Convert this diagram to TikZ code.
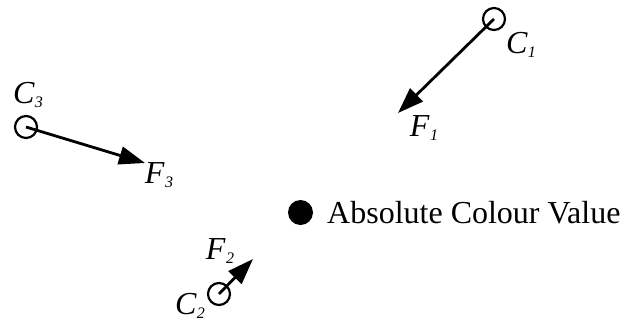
\documentclass[tikz,border=0pt]{standalone}
\usepackage{fontspec}
\setmainfont{Liberation Serif}
\usetikzlibrary{arrows.meta}
\newcommand{\lbl}[2]{\itshape #1\kern0.5pt\raisebox{-0.22ex}{\fontsize{16}{16}\selectfont #2}}
\begin{document}
\begin{tikzpicture}[x=1pt,y=-1pt,
  ring/.style={circle,draw,line width=2.2pt,minimum size=22pt,inner sep=0pt},
  vec/.style={line width=2.8pt,-{Triangle[length=26pt,width=18pt]}},
  lab/.style={font=\fontsize{32}{32}\selectfont,inner sep=0pt}]
\useasboundingbox (0,0) rectangle (624,322);
\node[ring] (c1) at (494,19) {};
\node[ring] (c3) at (26,127) {};
\node[ring] (c2) at (219,294) {};
\coordinate (f1) at (398,113);
\coordinate (f3) at (145,163);
\coordinate (f2) at (253,259);
\draw[vec] (c1.center) -- (f1);
\draw[vec] (c3.center) -- (f3);
\draw[vec] (c2.center) -- (f2);
\node[lab] (lc1) at (521,45) {\lbl{C}{1}};
\node[lab] (lf1) at (424,128) {\lbl{F}{1}};
\node[lab] (lc3) at (28,95) {\lbl{C}{3}};
\node[lab] (lf3) at (159,175) {\lbl{F}{3}};
\node[lab] (lf2) at (220,251) {\lbl{F}{2}};
\node[lab] (lc2) at (190,306) {\lbl{C}{2}};
\node[circle,fill,minimum size=25pt,inner sep=0pt] (dot) at (300.5,212.5) {};
\node[font=\fontsize{32}{32}\selectfont,anchor=base west,inner sep=0pt] (txt) at (327,223) {Absolute Colour Value};
\end{tikzpicture}
\end{document}
